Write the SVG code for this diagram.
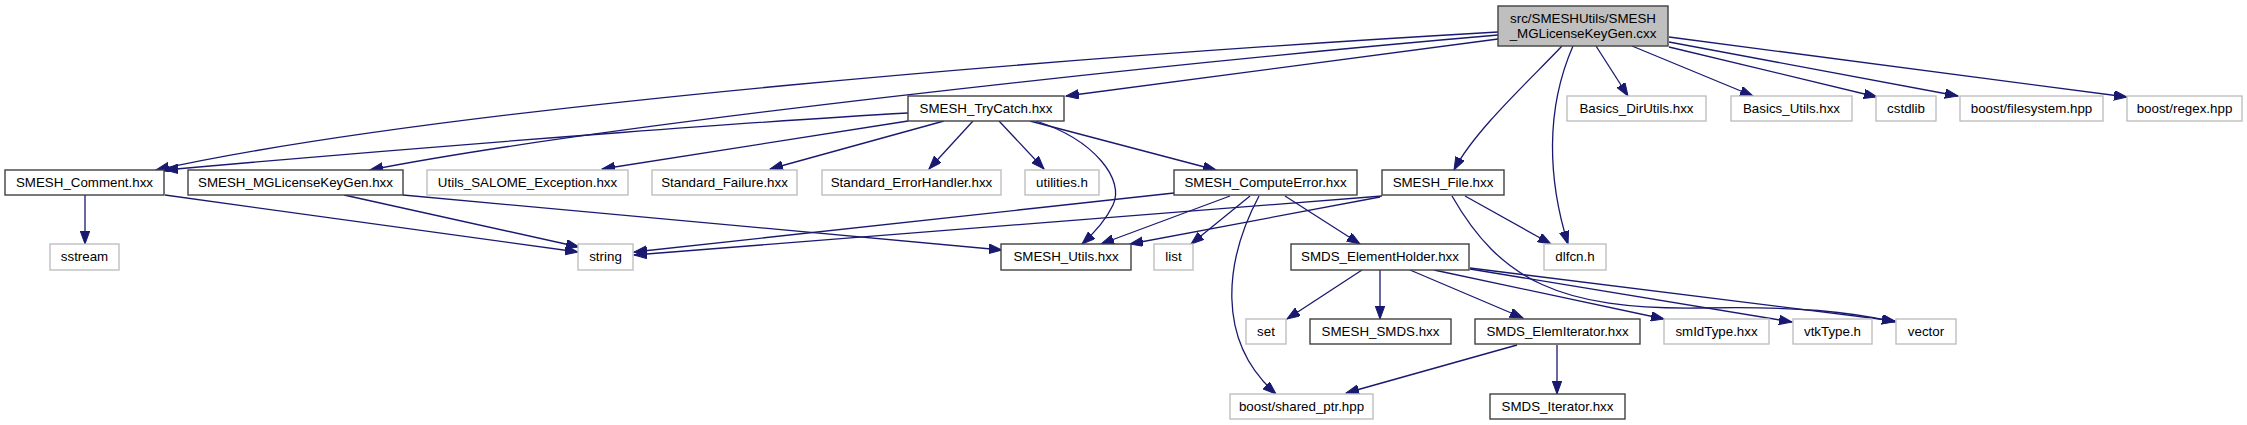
<svg xmlns="http://www.w3.org/2000/svg" width="2247" height="425" viewBox="0 0 2247 425">
<style>
.bg{fill:#ffffff}
.doc rect{fill:#ffffff;stroke:#404040;stroke-width:1.4}
.ext rect{fill:#ffffff;stroke:#bfbfbf;stroke-width:1.4}
.main rect{fill:#bfbfbf;stroke:#404040;stroke-width:1.4}
text{font-family:"Liberation Sans",Helvetica,Arial,sans-serif;font-size:13.33px;fill:#000000;text-anchor:middle}
.edges path{fill:none;stroke:#191970;stroke-width:1.3;marker-end:url(#arrow)}
</style>
<defs>
<marker id="arrow" markerUnits="userSpaceOnUse" markerWidth="14" markerHeight="10" refX="13" refY="4.75" orient="auto">
<path d="M0,0 L13,4.75 L0,9.5 z" fill="#191970" stroke="#191970" stroke-width="1"/>
</marker>
</defs>
<rect class="bg" x="0" y="0" width="2247" height="425"/>
<g id="edges" class="edges">
<path d="M1498,32 C1100,55 450,105 156,170"/>
<path d="M1498,35 C1150,65 600,125 370,170"/>
<path d="M1498,39 L1066,96"/>
<path d="M1562,46 C1530,80 1475,130 1454,170"/>
<path d="M1573,46 C1545,110 1548,180 1568,244"/>
<path d="M1596,46 L1628,96"/>
<path d="M1632,46 L1753,96"/>
<path d="M1669,47 L1877,97"/>
<path d="M1669,42 L1958,96"/>
<path d="M1669,37 L2127,97"/>
<path d="M908,113 C800,119 500,140 165,170"/>
<path d="M908,121 L602,169"/>
<path d="M944,121 L770,169"/>
<path d="M973,121 L929,169"/>
<path d="M999,121 L1044,169"/>
<path d="M1030,121 L1216,170"/>
<path d="M1036,121 C1095,140 1125,180 1113,205 C1105,222 1093,234 1082,244"/>
<path d="M85,195 L85,244"/>
<path d="M165,195 L578,252"/>
<path d="M344,195 L579,247"/>
<path d="M403,195 L1002,250"/>
<path d="M1174,193 L634,252"/>
<path d="M1230,196 L1101,244"/>
<path d="M1250,196 L1191,244"/>
<path d="M1285,196 L1360,244"/>
<path d="M1259,196 C1225,260 1215,340 1276,394"/>
<path d="M1382,196 L634,255"/>
<path d="M1380,197 L1130,244"/>
<path d="M1465,196 L1551,244"/>
<path d="M1452,196 C1500,280 1560,310 1700,308 C1800,306 1850,312 1895,322"/>
<path d="M1362,270 L1287,319"/>
<path d="M1380,270 L1380,319"/>
<path d="M1410,270 L1523,318"/>
<path d="M1434,270 L1664,319"/>
<path d="M1470,269 L1792,322"/>
<path d="M1470,268 L1895,321"/>
<path d="M1517,345 L1346,393"/>
<path d="M1557,345 L1557,394"/>
</g>
<g id="node_main" class="main"><rect x="1498" y="6" width="170" height="40"/><text x="1583" y="23">src/SMESHUtils/SMESH</text><text x="1583" y="38">_MGLicenseKeyGen.cxx</text></g>
<g id="node_trycatch" class="doc"><rect x="908" y="96" width="156" height="25"/><text x="986" y="113">SMESH_TryCatch.hxx</text></g>
<g id="node_basics_dirutils" class="ext"><rect x="1567" y="96" width="139" height="25"/><text x="1636.5" y="113">Basics_DirUtils.hxx</text></g>
<g id="node_basics_utils" class="ext"><rect x="1731" y="96" width="121" height="25"/><text x="1791.5" y="113">Basics_Utils.hxx</text></g>
<g id="node_cstdlib" class="ext"><rect x="1876" y="96" width="60" height="25"/><text x="1906" y="113">cstdlib</text></g>
<g id="node_boost_filesystem" class="ext"><rect x="1960" y="96" width="143" height="25"/><text x="2031.5" y="113">boost/filesystem.hpp</text></g>
<g id="node_boost_regex" class="ext"><rect x="2127" y="96" width="115" height="25"/><text x="2184.5" y="113">boost/regex.hpp</text></g>
<g id="node_comment" class="doc"><rect x="5" y="170" width="159" height="25"/><text x="84.5" y="187">SMESH_Comment.hxx</text></g>
<g id="node_mglicense" class="doc"><rect x="188" y="170" width="215" height="25"/><text x="295.5" y="187">SMESH_MGLicenseKeyGen.hxx</text></g>
<g id="node_utils_salome" class="ext"><rect x="427" y="170" width="201" height="25"/><text x="527.5" y="187">Utils_SALOME_Exception.hxx</text></g>
<g id="node_std_failure" class="ext"><rect x="652" y="170" width="145" height="25"/><text x="724.5" y="187">Standard_Failure.hxx</text></g>
<g id="node_std_errorhandler" class="ext"><rect x="822" y="170" width="179" height="25"/><text x="911.5" y="187">Standard_ErrorHandler.hxx</text></g>
<g id="node_utilities" class="ext"><rect x="1025" y="170" width="74" height="25"/><text x="1062" y="187">utilities.h</text></g>
<g id="node_computeerror" class="doc"><rect x="1174" y="170" width="183" height="25"/><text x="1265.5" y="187">SMESH_ComputeError.hxx</text></g>
<g id="node_file" class="doc"><rect x="1382" y="170" width="122" height="25"/><text x="1443" y="187">SMESH_File.hxx</text></g>
<g id="node_sstream" class="ext"><rect x="50" y="244" width="69" height="26"/><text x="84.5" y="261">sstream</text></g>
<g id="node_string" class="ext"><rect x="578" y="244" width="55" height="26"/><text x="605.5" y="261">string</text></g>
<g id="node_smesh_utils" class="doc"><rect x="1001" y="244" width="130" height="26"/><text x="1066" y="261">SMESH_Utils.hxx</text></g>
<g id="node_list" class="ext"><rect x="1154" y="244" width="39" height="26"/><text x="1173.5" y="261">list</text></g>
<g id="node_elementholder" class="doc"><rect x="1291" y="244" width="178" height="26"/><text x="1380" y="261">SMDS_ElementHolder.hxx</text></g>
<g id="node_dlfcn" class="ext"><rect x="1544" y="244" width="62" height="26"/><text x="1575" y="261">dlfcn.h</text></g>
<g id="node_set" class="ext"><rect x="1246" y="319" width="40" height="25"/><text x="1266" y="336">set</text></g>
<g id="node_smesh_smds" class="doc"><rect x="1310" y="319" width="141" height="25"/><text x="1380.5" y="336">SMESH_SMDS.hxx</text></g>
<g id="node_elemiterator" class="doc"><rect x="1475" y="319" width="165" height="25"/><text x="1557.5" y="336">SMDS_ElemIterator.hxx</text></g>
<g id="node_smidtype" class="ext"><rect x="1664" y="319" width="105" height="25"/><text x="1716.5" y="336">smIdType.hxx</text></g>
<g id="node_vtktype" class="ext"><rect x="1793" y="319" width="79" height="25"/><text x="1832.5" y="336">vtkType.h</text></g>
<g id="node_vector" class="ext"><rect x="1896" y="319" width="60" height="25"/><text x="1926" y="336">vector</text></g>
<g id="node_shared_ptr" class="ext"><rect x="1230" y="394" width="143" height="25"/><text x="1301.5" y="411">boost/shared_ptr.hpp</text></g>
<g id="node_iterator" class="doc"><rect x="1490" y="394" width="135" height="25"/><text x="1557.5" y="411">SMDS_Iterator.hxx</text></g>
</svg>
